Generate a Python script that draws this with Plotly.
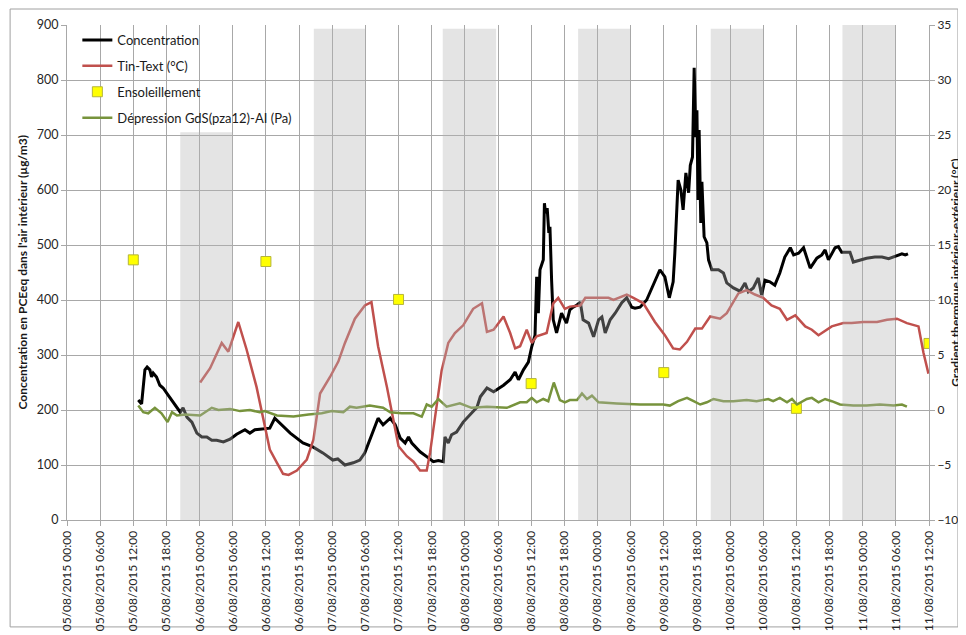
import pandas as pd
import plotly.graph_objects as go

# time axis: hours counted from 05/08/2015 00:00
START = pd.Timestamp("2015-08-05 00:00")

# Concentration (µg/m3, left axis)
conc_hours = [12.9, 13.5, 14.1, 14.5, 15.0, 15.3, 15.6, 16.2, 16.8, 17.4, 18.3, 19.2, 19.9, 20.5, 21.0,
              21.7, 22.6, 23.5, 24.4, 25.3, 26.2, 27.1, 28.3, 29.5, 30.7, 32.2, 33.1, 34.0, 34.9, 36.7,
              37.6, 38.6, 40.4, 42.7, 44.5, 46.3, 48.1, 49.0, 50.3, 51.8, 53.0, 53.9, 55.2, 56.3, 57.2,
              58.5, 59.4, 60.3, 61.2, 61.8, 62.4, 63.3, 63.9, 65.4, 66.3, 67.2, 68.1, 68.4, 69.0, 69.6,
              70.5, 71.7, 72.9, 74.2, 74.8, 76.0, 77.2, 79.0, 80.2, 81.1, 81.7, 82.6, 83.5, 84.1, 84.7,
              85.0, 85.3, 85.6, 86.2, 86.4, 86.6, 86.9, 87.2, 87.4, 87.7, 88.0, 88.6, 89.5, 90.4, 91.0,
              91.6, 92.3, 92.9, 93.4, 94.4, 95.3, 96.2, 96.8, 97.4, 98.3, 99.2, 100.4, 101.3, 102.2, 102.8,
              103.7, 104.9, 106.1, 107.3, 108.2, 109.0, 109.7, 110.0, 110.6, 111.1, 111.5, 112.0, 112.5,
              112.8, 113.2, 113.5, 113.8, 114.0, 114.2, 114.4, 114.7, 114.9, 115.3, 115.8, 116.1, 116.7,
              117.9, 118.8, 119.4, 120.6, 121.8, 122.7, 123.3, 124.2, 125.1, 125.7, 126.3, 127.2, 128.1,
              129.0, 129.9, 130.9, 131.5, 132.4, 133.3, 134.5, 135.7, 136.6, 137.2, 137.8, 139.0, 139.6,
              140.2, 141.7, 142.3, 143.5, 144.7, 146.2, 147.5, 148.7, 149.9, 151.1, 151.7, 152.2]
conc_values = [218, 211, 273, 278, 273, 260, 267, 260, 245, 240, 227, 215, 205, 196, 204,
               187, 178, 158, 151, 151, 145, 145, 142, 147, 156, 164, 158, 164, 165, 167,
               185, 176, 158, 140, 133, 122, 109, 111, 100, 104, 109, 122, 158, 185, 173,
               185, 173, 149, 140, 151, 140, 131, 124, 113, 106, 108, 106, 151, 140, 155,
               160, 178, 191, 205, 224, 240, 233, 245, 255, 269, 255, 273, 287, 315, 336,
               442, 376, 455, 473, 576, 558, 567, 522, 533, 436, 364, 340, 376, 358, 382,
               387, 391, 396, 364, 358, 333, 364, 369, 340, 364, 376, 395, 404, 387, 385,
               387, 400, 429, 455, 442, 404, 433, 485, 618, 600, 564, 631, 595,
               645, 660, 822, 696, 745, 582, 709, 540, 615, 515, 504, 473, 455,
               455, 449, 431, 422, 416, 431, 415, 422, 440, 409, 436, 433, 427,
               449, 478, 495, 482, 485, 495, 458, 476, 482, 491, 473, 495, 497,
               487, 487, 469, 473, 476, 478, 478, 475, 480, 484, 482, 484]

# Tin-Text (°C, right axis)
temp_hours = [24.1, 25.9, 28.0, 29.2, 31.0, 32.5, 34.3, 35.5, 36.7, 38.0, 39.1, 40.1, 41.6, 43.4, 44.6,
              45.8, 47.6, 49.1, 50.3, 52.1, 53.9, 55.1, 56.3, 57.9, 59.1, 60.0, 61.5, 62.7, 63.9, 65.1,
              65.7, 66.9, 67.8, 69.0, 70.2, 71.7, 73.5, 75.1, 76.0, 77.2, 79.0, 80.2, 81.1, 82.0, 83.2,
              84.1, 85.0, 86.8, 88.0, 88.9, 90.1, 91.0, 92.9, 93.8, 95.3, 98.0, 98.9, 101.3, 102.5, 104.3,
              106.4, 108.2, 109.7, 110.9, 112.2, 113.7, 114.9, 116.4, 118.2, 119.4, 121.5, 123.0, 124.5,
              126.0, 127.5, 129.0, 130.3, 131.8, 133.6, 134.8, 136.0, 136.9, 138.4, 140.5, 142.0, 144.1,
              146.6, 148.4, 150.2, 152.0, 154.1, 155.0, 155.9]
temp_values = [2.5, 3.8, 6.1, 5.3, 8.0, 5.5, 2.1, -0.9, -3.6, -4.8, -5.8, -5.9, -5.5, -4.5, -2.7,
               1.5, 3.0, 4.4, 6.1, 8.3, 9.5, 9.8, 5.8, 2.1, -0.9, -3.3, -4.2, -4.7, -5.5, -5.5,
               -3.9, 0.3, 3.6, 6.1, 7.0, 7.7, 9.2, 9.7, 7.1, 7.3, 8.5, 7.0, 5.6, 5.8, 7.3,
               6.1, 6.7, 7.0, 9.7, 10.2, 9.2, 9.4, 9.5, 10.2, 10.2, 10.2, 10.0, 10.5, 10.2, 9.7,
               8.0, 6.8, 5.6, 5.5, 6.2, 7.4, 7.4, 8.5, 8.3, 8.8, 10.6, 10.9, 10.5,
               10.2, 9.5, 9.2, 8.2, 8.6, 7.6, 7.3, 6.8, 7.1, 7.6, 7.9, 7.9, 8.0,
               8.0, 8.2, 8.3, 7.9, 7.6, 5.2, 3.3]

# Dépression GdS(pza12)-AI (Pa, right axis)
dep_hours = [12.9, 13.8, 14.7, 15.9, 17.1, 18.2, 19.0, 19.9, 21.4, 24.1, 26.2, 27.4, 29.5, 31.3, 33.1,
             34.9, 35.8, 38.0, 41.0, 43.7, 46.1, 47.9, 50.0, 51.2, 52.4, 54.8, 57.2, 58.5, 60.6, 62.7,
             64.2, 65.1, 66.0, 67.2, 68.7, 71.1, 73.2, 76.0, 79.6, 82.0, 83.2, 84.1, 85.0, 86.2, 87.1,
             88.1, 89.2, 90.1, 91.0, 92.3, 93.2, 94.1, 95.0, 96.2, 99.5, 103.7, 107.9, 109.1, 110.6,
             112.2, 113.4, 114.6, 115.8, 117.0, 118.8, 120.6, 123.0, 124.8, 126.9, 127.8, 129.0, 130.3,
             131.2, 132.1, 133.9, 134.8, 136.0, 137.2, 138.4, 139.9, 142.3, 144.7, 147.1, 149.6, 151.1,
             152.0]
dep_values = [0.4, -0.2, -0.3, 0.2, -0.3, -1.1, -0.2, -0.5, -0.4, -0.5, 0.2, 0.0, 0.1, -0.1, 0.0,
              -0.2, -0.1, -0.5, -0.6, -0.4, -0.3, -0.1, -0.2, 0.3, 0.2, 0.4, 0.2, -0.2, -0.3, -0.3,
              -0.6, 0.5, 0.3, 1.0, 0.3, 0.6, 0.2, 0.3, 0.2, 0.7, 0.7, 1.1, 0.7, 1.0, 0.8,
              2.5, 0.9, 0.7, 0.9, 0.9, 1.5, 1.0, 1.3, 0.7, 0.6, 0.5, 0.5, 0.4, 0.8,
              1.1, 0.8, 0.5, 0.7, 1.0, 0.8, 0.8, 0.9, 0.8, 1.0, 0.8, 1.1, 0.7,
              1.0, 0.5, 1.0, 1.1, 0.7, 1.0, 0.8, 0.5, 0.4, 0.4, 0.5, 0.4, 0.5,
              0.3]

# Ensoleillement (left axis)
sun_hours = [12, 36, 60, 84, 108, 132, 156]
sun_values = [473, 470, 401, 248, 268, 203, 321]

# night periods (grey bands, left axis height)
night_start = ["2015-08-05 20:30", "2015-08-06 20:40", "2015-08-07 20:00", "2015-08-08 20:30",
               "2015-08-09 20:30", "2015-08-10 20:20"]
night_end = ["2015-08-06 06:00", "2015-08-07 06:00", "2015-08-08 05:40", "2015-08-09 05:55",
             "2015-08-10 06:00", "2015-08-11 05:55"]
night_top = [705, 893, 893, 893, 893, 900]


def to_time(hours):
    return [START + pd.Timedelta(hours=h) for h in hours]


FONT = "Lato, Open Sans, sans-serif"
GRID = "#a8a8a8"

fig = go.Figure()

fig.add_trace(go.Scatter(
    x=to_time(conc_hours), y=conc_values, mode="lines", name="Concentration",
    line=dict(color="black", width=3), legendgroup="a"
))
fig.add_trace(go.Scatter(
    x=to_time(temp_hours), y=temp_values, mode="lines", name="Tin-Text (°C)",
    line=dict(color="#c0504d", width=2.5), yaxis="y2", legendgroup="b"
))
fig.add_trace(go.Scatter(
    x=to_time(sun_hours), y=sun_values, mode="markers", name="Ensoleillement",
    marker=dict(symbol="square", size=10, color="#ffff00", line=dict(color="#b5b53a", width=1)),
    legendgroup="c"
))
fig.add_trace(go.Scatter(
    x=to_time(dep_hours), y=dep_values, mode="lines", name="Dépression GdS(pza12)-AI (Pa)",
    line=dict(color="#77933c", width=2.5), yaxis="y2", legendgroup="d"
))

# grey night bands drawn over the curves (semi transparent)
for s, e, top in zip(night_start, night_end, night_top):
    fig.add_shape(type="rect", xref="x", yref="y", x0=s, x1=e, y0=0, y1=top,
                  fillcolor="rgba(179,179,179,0.36)", line_width=0, layer="above")

# outer chart border
fig.add_shape(type="rect", xref="paper", yref="paper", x0=-0.066, x1=1.0336, y0=-0.216, y1=1.0323,
              line=dict(color="#a0a0a0", width=1), fillcolor="rgba(0,0,0,0)", layer="below")

# axis titles
fig.add_annotation(text="<b>Concentration en PCEeq dans l'air intérieur (µg/m3)</b>",
                   xref="paper", yref="paper", x=-0.0522, y=0.5, textangle=-90,
                   xanchor="center", yanchor="middle",
                   showarrow=False, font=dict(size=12, color="#1a1a1a"))
fig.add_annotation(text="<b>Gradient thermique intérieur-extérieur (°C)</b>",
                   xref="paper", yref="paper", x=1.0305, y=0.5, textangle=-90,
                   xanchor="center", yanchor="middle",
                   showarrow=False, font=dict(size=12, color="#1a1a1a"))

# the page body adds an 8 px offset, so the figure is 8 px smaller than the window
fig.update_layout(
    width=958, height=627,
    margin=dict(l=59, r=37, t=17, b=115),
    paper_bgcolor="white", plot_bgcolor="white",
    font=dict(family=FONT, size=12, color="#262626"),
    showlegend=True,
    legend=dict(x=0.012, y=1.0, xanchor="left", yanchor="top", bgcolor="rgba(0,0,0,0)",
                font=dict(size=13, color="#1a1a1a"), tracegroupgap=6, itemwidth=30),
    xaxis=dict(
        type="date", automargin=False,
        range=[START, START + pd.Timedelta(hours=156)],
        tick0=START, dtick=6 * 3600 * 1000,
        tickformat="%d/%m/%Y %H:%M", tickangle=-90,
        showgrid=True, gridcolor=GRID, gridwidth=1,
        ticks="outside", ticklen=5, tickcolor=GRID,
        showline=True, linecolor=GRID, linewidth=1,
        tickfont=dict(size=12), zeroline=False,
    ),
    yaxis=dict(
        range=[0, 900], dtick=100, automargin=False,
        showgrid=True, gridcolor=GRID, gridwidth=1,
        ticks="outside", ticklen=5, tickcolor=GRID,
        showline=True, linecolor=GRID, linewidth=1,
        tickfont=dict(size=12.5), zeroline=False,
    ),
    yaxis2=dict(
        range=[-10, 35], dtick=5, overlaying="y", side="right", automargin=False,
        showgrid=False,
        ticks="outside", ticklen=5, tickcolor=GRID,
        showline=True, linecolor=GRID, linewidth=1,
        tickfont=dict(size=12), zeroline=False,
    ),
)

fig.write_html("out.html")
